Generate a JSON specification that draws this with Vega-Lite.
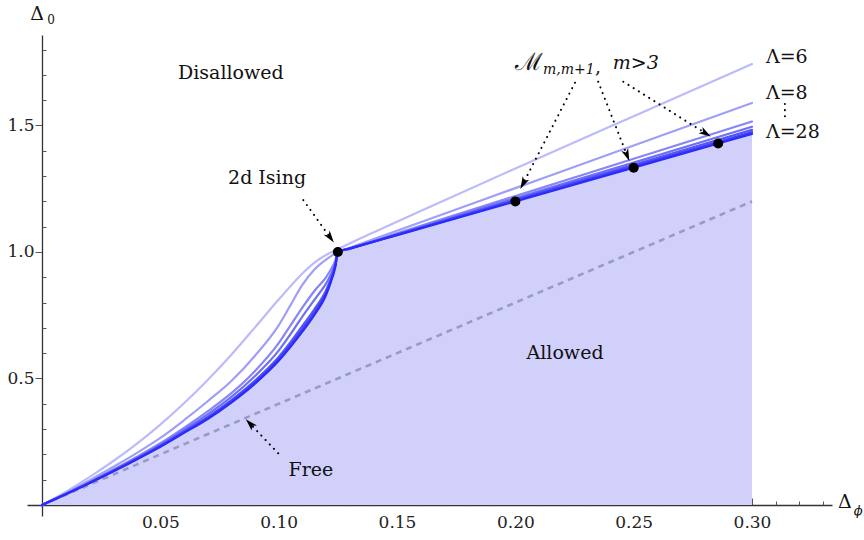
{
  "$schema": "https://vega.github.io/schema/vega-lite/v6.json",
  "autosize": "none",
  "width": 805,
  "height": 481,
  "padding": {"left": 27, "top": 35, "right": 32, "bottom": 24},
  "background": "white",
  "config": {
    "view": {"stroke": null},
    "axis": {"grid": false, "title": null, "domainColor": "#333333", "domainWidth": 1.3, "tickColor": "#555555", "tickWidth": 1, "labelFont": "DejaVu Serif", "labelFontSize": 17, "labelColor": "#222222", "labelOverlap": false, "labelFlush": false, "labelBound": false}
  },
  "resolve": {"axis": {"x": "independent", "y": "independent"}},
  "datasets": {
    "curves": [
      {"L": 6, "x": 0, "y": 0}, {"L": 6, "x": 0.01, "y": 0.052}, {"L": 6, "x": 0.02, "y": 0.11}, {"L": 6, "x": 0.03, "y": 0.173}, {"L": 6, "x": 0.04, "y": 0.242}, {"L": 6, "x": 0.05, "y": 0.318}, {"L": 6, "x": 0.06, "y": 0.402}, {"L": 6, "x": 0.07, "y": 0.494}, {"L": 6, "x": 0.08, "y": 0.594}, {"L": 6, "x": 0.09, "y": 0.702}, {"L": 6, "x": 0.1, "y": 0.812}, {"L": 6, "x": 0.105, "y": 0.865}, {"L": 6, "x": 0.11, "y": 0.915}, {"L": 6, "x": 0.115, "y": 0.957}, {"L": 6, "x": 0.12, "y": 0.988}, {"L": 6, "x": 0.125, "y": 1.011}, {"L": 6, "x": 0.13, "y": 1.034}, {"L": 6, "x": 0.14, "y": 1.077}, {"L": 6, "x": 0.16, "y": 1.162}, {"L": 6, "x": 0.2, "y": 1.33}, {"L": 6, "x": 0.25, "y": 1.537}, {"L": 6, "x": 0.3, "y": 1.743},
      {"L": 8, "x": 0, "y": 0}, {"L": 8, "x": 0.01, "y": 0.047}, {"L": 8, "x": 0.02, "y": 0.097}, {"L": 8, "x": 0.03, "y": 0.15}, {"L": 8, "x": 0.04, "y": 0.205}, {"L": 8, "x": 0.05, "y": 0.265}, {"L": 8, "x": 0.06, "y": 0.335}, {"L": 8, "x": 0.07, "y": 0.41}, {"L": 8, "x": 0.08, "y": 0.49}, {"L": 8, "x": 0.09, "y": 0.59}, {"L": 8, "x": 0.1, "y": 0.71}, {"L": 8, "x": 0.105, "y": 0.79}, {"L": 8, "x": 0.11, "y": 0.87}, {"L": 8, "x": 0.115, "y": 0.93}, {"L": 8, "x": 0.12, "y": 0.97}, {"L": 8, "x": 0.122, "y": 0.983}, {"L": 8, "x": 0.124, "y": 0.995}, {"L": 8, "x": 0.125, "y": 1.0}, {"L": 8, "x": 0.13, "y": 1.0168}, {"L": 8, "x": 0.15, "y": 1.0842}, {"L": 8, "x": 0.2, "y": 1.2525}, {"L": 8, "x": 0.25, "y": 1.4208}, {"L": 8, "x": 0.3, "y": 1.589},
      {"L": 12, "x": 0, "y": 0}, {"L": 12, "x": 0.01, "y": 0.044}, {"L": 12, "x": 0.02, "y": 0.09}, {"L": 12, "x": 0.03, "y": 0.139}, {"L": 12, "x": 0.04, "y": 0.19}, {"L": 12, "x": 0.05, "y": 0.244}, {"L": 12, "x": 0.06, "y": 0.305}, {"L": 12, "x": 0.07, "y": 0.37}, {"L": 12, "x": 0.08, "y": 0.442}, {"L": 12, "x": 0.09, "y": 0.53}, {"L": 12, "x": 0.1, "y": 0.64}, {"L": 12, "x": 0.105, "y": 0.71}, {"L": 12, "x": 0.11, "y": 0.78}, {"L": 12, "x": 0.115, "y": 0.845}, {"L": 12, "x": 0.12, "y": 0.9}, {"L": 12, "x": 0.122, "y": 0.93}, {"L": 12, "x": 0.124, "y": 0.968}, {"L": 12, "x": 0.125, "y": 1.0}, {"L": 12, "x": 0.13, "y": 1.0147}, {"L": 12, "x": 0.15, "y": 1.0737}, {"L": 12, "x": 0.2, "y": 1.221}, {"L": 12, "x": 0.25, "y": 1.3683}, {"L": 12, "x": 0.3, "y": 1.5156},
      {"L": 16, "x": 0, "y": 0}, {"L": 16, "x": 0.01, "y": 0.043}, {"L": 16, "x": 0.02, "y": 0.0885}, {"L": 16, "x": 0.03, "y": 0.136}, {"L": 16, "x": 0.04, "y": 0.1857}, {"L": 16, "x": 0.05, "y": 0.238}, {"L": 16, "x": 0.06, "y": 0.297}, {"L": 16, "x": 0.07, "y": 0.358}, {"L": 16, "x": 0.08, "y": 0.427}, {"L": 16, "x": 0.09, "y": 0.51}, {"L": 16, "x": 0.1, "y": 0.61}, {"L": 16, "x": 0.105, "y": 0.675}, {"L": 16, "x": 0.11, "y": 0.745}, {"L": 16, "x": 0.115, "y": 0.81}, {"L": 16, "x": 0.12, "y": 0.875}, {"L": 16, "x": 0.122, "y": 0.91}, {"L": 16, "x": 0.124, "y": 0.958}, {"L": 16, "x": 0.125, "y": 1.0}, {"L": 16, "x": 0.13, "y": 1.0141}, {"L": 16, "x": 0.15, "y": 1.0707}, {"L": 16, "x": 0.2, "y": 1.2121}, {"L": 16, "x": 0.25, "y": 1.3534}, {"L": 16, "x": 0.3, "y": 1.4948},
      {"L": 20, "x": 0, "y": 0}, {"L": 20, "x": 0.01, "y": 0.0427}, {"L": 20, "x": 0.02, "y": 0.0874}, {"L": 20, "x": 0.03, "y": 0.1343}, {"L": 20, "x": 0.04, "y": 0.1832}, {"L": 20, "x": 0.05, "y": 0.2345}, {"L": 20, "x": 0.06, "y": 0.2912}, {"L": 20, "x": 0.07, "y": 0.3484}, {"L": 20, "x": 0.08, "y": 0.4147}, {"L": 20, "x": 0.09, "y": 0.4917}, {"L": 20, "x": 0.1, "y": 0.585}, {"L": 20, "x": 0.105, "y": 0.6432}, {"L": 20, "x": 0.11, "y": 0.7077}, {"L": 20, "x": 0.115, "y": 0.7727}, {"L": 20, "x": 0.12, "y": 0.8479}, {"L": 20, "x": 0.122, "y": 0.8933}, {"L": 20, "x": 0.124, "y": 0.9515}, {"L": 20, "x": 0.125, "y": 1.0}, {"L": 20, "x": 0.13, "y": 1.0138}, {"L": 20, "x": 0.15, "y": 1.069}, {"L": 20, "x": 0.2, "y": 1.2068}, {"L": 20, "x": 0.25, "y": 1.3447}, {"L": 20, "x": 0.3, "y": 1.4826},
      {"L": 24, "x": 0, "y": 0}, {"L": 24, "x": 0.01, "y": 0.0423}, {"L": 24, "x": 0.02, "y": 0.0867}, {"L": 24, "x": 0.03, "y": 0.1331}, {"L": 24, "x": 0.04, "y": 0.1815}, {"L": 24, "x": 0.05, "y": 0.2321}, {"L": 24, "x": 0.06, "y": 0.2879}, {"L": 24, "x": 0.07, "y": 0.3439}, {"L": 24, "x": 0.08, "y": 0.4095}, {"L": 24, "x": 0.09, "y": 0.4854}, {"L": 24, "x": 0.1, "y": 0.5769}, {"L": 24, "x": 0.105, "y": 0.6334}, {"L": 24, "x": 0.11, "y": 0.6955}, {"L": 24, "x": 0.115, "y": 0.7605}, {"L": 24, "x": 0.12, "y": 0.8383}, {"L": 24, "x": 0.122, "y": 0.8861}, {"L": 24, "x": 0.124, "y": 0.948}, {"L": 24, "x": 0.125, "y": 1.0}, {"L": 24, "x": 0.13, "y": 1.0135}, {"L": 24, "x": 0.15, "y": 1.0677}, {"L": 24, "x": 0.2, "y": 1.2031}, {"L": 24, "x": 0.25, "y": 1.3385}, {"L": 24, "x": 0.3, "y": 1.474},
      {"L": 28, "x": 0, "y": 0}, {"L": 28, "x": 0.01, "y": 0.042}, {"L": 28, "x": 0.02, "y": 0.086}, {"L": 28, "x": 0.03, "y": 0.132}, {"L": 28, "x": 0.04, "y": 0.18}, {"L": 28, "x": 0.05, "y": 0.23}, {"L": 28, "x": 0.06, "y": 0.285}, {"L": 28, "x": 0.07, "y": 0.34}, {"L": 28, "x": 0.08, "y": 0.405}, {"L": 28, "x": 0.09, "y": 0.48}, {"L": 28, "x": 0.1, "y": 0.57}, {"L": 28, "x": 0.105, "y": 0.625}, {"L": 28, "x": 0.11, "y": 0.685}, {"L": 28, "x": 0.115, "y": 0.75}, {"L": 28, "x": 0.12, "y": 0.83}, {"L": 28, "x": 0.122, "y": 0.88}, {"L": 28, "x": 0.124, "y": 0.945}, {"L": 28, "x": 0.125, "y": 1.0}, {"L": 28, "x": 0.13, "y": 1.0133}, {"L": 28, "x": 0.15, "y": 1.0667}, {"L": 28, "x": 0.2, "y": 1.2}, {"L": 28, "x": 0.25, "y": 1.3333}, {"L": 28, "x": 0.3, "y": 1.4667}
    ],
    "free": [{"x": 0, "y": 0}, {"x": 0.3, "y": 1.2}],
    "pts": [{"x": 0.125, "y": 1.0}, {"x": 0.2, "y": 1.2}, {"x": 0.25, "y": 1.3333}, {"x": 0.2857, "y": 1.4286}],
    "arrows": [
      {"a": "ising", "x": 0.1104, "y": 1.2055, "x2": 0.1218, "y2": 1.0569},
      {"a": "free", "x": 0.0998, "y": 0.2043, "x2": 0.0879, "y2": 0.3217},
      {"a": "m1", "x": 0.2252, "y": 1.6692, "x2": 0.2033, "y2": 1.2708},
      {"a": "m2", "x": 0.235, "y": 1.6732, "x2": 0.2472, "y2": 1.3822},
      {"a": "m3", "x": 0.2456, "y": 1.6732, "x2": 0.2804, "y2": 1.4692},
      {"a": "lam", "x": 0.3139, "y": 1.585, "x2": 0.3139, "y2": 1.522}
    ]
  },
  "layer": [
    {
      "data": {"name": "curves"},
      "transform": [{"filter": "datum.L == 28"}],
      "mark": {"type": "area", "color": "#d0d0fb", "opacity": 1, "interpolate": "monotone"},
      "encoding": {
        "x": {"field": "x", "type": "quantitative", "scale": {"domain": [-0.00634, 0.3338], "nice": false, "zero": false},
          "axis": {"orient": "bottom", "offset": -11, "values": [0.05, 0.1, 0.15, 0.2, 0.25, 0.3], "format": ".2f", "tickSize": -7, "labelPadding": 16, "labelOverlap": false}},
        "y": {"field": "y", "type": "quantitative", "scale": {"domain": [-0.04348, 1.8577], "nice": false, "zero": false},
          "axis": {"orient": "left", "offset": -15, "values": [0.5, 1.0, 1.5], "format": ".1f", "tickSize": 7, "labelPadding": 1, "labelOverlap": false}},
        "y2": {"datum": 0}
      }
    },
    {
      "data": {"name": "free"},
      "mark": {"type": "line", "color": "#9a9ac6", "strokeWidth": 2.6, "strokeDash": [6, 5]},
      "encoding": {
        "x": {"field": "x", "type": "quantitative",
          "axis": {"orient": "bottom", "offset": -11, "domain": false, "labels": false, "values": [0.01,0.02,0.03,0.04,0.06,0.07,0.08,0.09,0.11,0.12,0.13,0.14,0.16,0.17,0.18,0.19,0.21,0.22,0.23,0.24,0.26,0.27,0.28,0.29,0.31,0.32,0.33], "tickSize": -4}},
        "y": {"field": "y", "type": "quantitative",
          "axis": {"orient": "left", "offset": -15, "domain": false, "labels": false, "values": [0.1,0.2,0.3,0.4,0.6,0.7,0.8,0.9,1.1,1.2,1.3,1.4,1.6,1.7,1.8], "tickSize": -4}}
      }
    },
    {
      "data": {"name": "curves"},
      "mark": {"type": "line", "strokeCap": "round", "interpolate": "monotone"},
      "encoding": {
        "x": {"field": "x", "type": "quantitative", "axis": null},
        "y": {"field": "y", "type": "quantitative", "axis": null},
        "color": {"field": "L", "type": "ordinal", "legend": null, "scale": {"domain": [6, 8, 12, 16, 20, 24, 28], "range": ["#bbbbfb", "#9f9ff8", "#8686f7", "#6e6ef8", "#5656f8", "#4242f9", "#2b2bfc"]}},
        "strokeWidth": {"field": "L", "type": "ordinal", "legend": null, "scale": {"domain": [6, 8, 12, 16, 20, 24, 28], "range": [2.2, 2.2, 2.2, 2.2, 2.2, 2.2, 3]}}
      }
    },
    {
      "data": {"name": "pts"},
      "mark": {"type": "point", "filled": true, "color": "black", "opacity": 1, "size": 100},
      "encoding": {"x": {"field": "x", "type": "quantitative", "axis": null}, "y": {"field": "y", "type": "quantitative", "axis": null}}
    },
    {
      "data": {"name": "arrows"},
      "mark": {"type": "rule", "color": "black", "strokeWidth": 2, "strokeDash": [0.1, 6], "strokeCap": "round"},
      "encoding": {"x": {"field": "x", "type": "quantitative", "axis": null}, "y": {"field": "y", "type": "quantitative", "axis": null}, "x2": {"field": "x2"}, "y2": {"field": "y2"}}
    },
    {
      "data": {"name": "arrows"},
      "transform": [{"filter": "datum.a == 'ising'"}],
      "mark": {"type": "point", "shape": "M0,-1L0.6,1L0,0.5L-0.6,1Z", "filled": true, "color": "black", "opacity": 1, "size": 150, "angle": 144},
      "encoding": {"x": {"field": "x2", "type": "quantitative", "axis": null}, "y": {"field": "y2", "type": "quantitative", "axis": null}}
    },
    {
      "data": {"name": "arrows"},
      "transform": [{"filter": "datum.a == 'free'"}],
      "mark": {"type": "point", "shape": "M0,-1L0.6,1L0,0.5L-0.6,1Z", "filled": true, "color": "black", "opacity": 1, "size": 150, "angle": 316},
      "encoding": {"x": {"field": "x2", "type": "quantitative", "axis": null}, "y": {"field": "y2", "type": "quantitative", "axis": null}}
    },
    {
      "data": {"name": "arrows"},
      "transform": [{"filter": "datum.a == 'm1'"}],
      "mark": {"type": "point", "shape": "M0,-1L0.6,1L0,0.5L-0.6,1Z", "filled": true, "color": "black", "opacity": 1, "size": 150, "angle": 207},
      "encoding": {"x": {"field": "x2", "type": "quantitative", "axis": null}, "y": {"field": "y2", "type": "quantitative", "axis": null}}
    },
    {
      "data": {"name": "arrows"},
      "transform": [{"filter": "datum.a == 'm2'"}],
      "mark": {"type": "point", "shape": "M0,-1L0.6,1L0,0.5L-0.6,1Z", "filled": true, "color": "black", "opacity": 1, "size": 150, "angle": 158},
      "encoding": {"x": {"field": "x2", "type": "quantitative", "axis": null}, "y": {"field": "y2", "type": "quantitative", "axis": null}}
    },
    {
      "data": {"name": "arrows"},
      "transform": [{"filter": "datum.a == 'm3'"}],
      "mark": {"type": "point", "shape": "M0,-1L0.6,1L0,0.5L-0.6,1Z", "filled": true, "color": "black", "opacity": 1, "size": 150, "angle": 122},
      "encoding": {"x": {"field": "x2", "type": "quantitative", "axis": null}, "y": {"field": "y2", "type": "quantitative", "axis": null}}
    },
    {
      "data": {"values": [
        {"x": 0.0798, "y": 1.7075, "t": "Disallowed"},
        {"x": 0.221, "y": 0.6008, "t": "Allowed"},
        {"x": 0.1136, "y": 0.1383, "t": "Free"},
        {"x": 0.0951, "y": 1.2925, "t": "2d Ising"}
      ]},
      "mark": {"type": "text", "font": "DejaVu Serif", "fontSize": 19, "color": "#111111", "align": "center", "baseline": "middle"},
      "encoding": {"x": {"field": "x", "type": "quantitative", "axis": null}, "y": {"field": "y", "type": "quantitative", "axis": null}, "text": {"field": "t"}}
    },
    {
      "data": {"values": [
        {"x": 0.3059, "y": 1.772, "t": "Λ=6"},
        {"x": 0.3059, "y": 1.627, "t": "Λ=8"},
        {"x": 0.3059, "y": 1.4755, "t": "Λ=28"}
      ]},
      "mark": {"type": "text", "font": "DejaVu Serif", "fontSize": 19, "color": "#111111", "align": "left", "baseline": "middle"},
      "encoding": {"x": {"field": "x", "type": "quantitative", "axis": null}, "y": {"field": "y", "type": "quantitative", "axis": null}, "text": {"field": "t"}}
    },
    {
      "data": {"values": [
        {"x": 0.2412, "y": 1.746, "t": "m>3"}
      ]},
      "mark": {"type": "text", "font": "DejaVu Serif", "fontSize": 19, "fontStyle": "italic", "color": "#111111", "align": "left", "baseline": "middle"},
      "encoding": {"x": {"field": "x", "type": "quantitative", "axis": null}, "y": {"field": "y", "type": "quantitative", "axis": null}, "text": {"field": "t"}}
    },
    {
      "data": {"values": [
        {"x": 0.2058, "y": 1.746, "t": "ℳ"}
      ]},
      "mark": {"type": "text", "font": "DejaVu Serif", "fontSize": 24, "color": "#111111", "align": "center", "baseline": "middle"},
      "encoding": {"x": {"field": "x", "type": "quantitative", "axis": null}, "y": {"field": "y", "type": "quantitative", "axis": null}, "text": {"field": "t"}}
    },
    {
      "data": {"values": [
        {"x": 0.2117, "y": 1.719, "t": "m,m+1"}
      ]},
      "mark": {"type": "text", "font": "DejaVu Serif", "fontSize": 14, "fontStyle": "italic", "color": "#111111", "align": "left", "baseline": "middle"},
      "encoding": {"x": {"field": "x", "type": "quantitative", "axis": null}, "y": {"field": "y", "type": "quantitative", "axis": null}, "text": {"field": "t"}}
    },
    {
      "data": {"values": [
        {"x": 0.2349, "y": 1.73, "t": ","},
        {"x": -0.0021, "y": 1.9407, "t": "Δ"},
        {"x": 0.3392, "y": 0.012, "t": "Δ"}
      ]},
      "mark": {"type": "text", "font": "DejaVu Serif", "fontSize": 19, "color": "#111111", "align": "center", "baseline": "middle"},
      "encoding": {"x": {"field": "x", "type": "quantitative", "axis": null}, "y": {"field": "y", "type": "quantitative", "axis": null}, "text": {"field": "t"}}
    },
    {
      "data": {"values": [
        {"x": 0.0022, "y": 1.917, "t": "0"}
      ]},
      "mark": {"type": "text", "font": "DejaVu Serif", "fontSize": 12, "color": "#111111", "align": "left", "baseline": "middle"},
      "encoding": {"x": {"field": "x", "type": "quantitative", "axis": null}, "y": {"field": "y", "type": "quantitative", "axis": null}, "text": {"field": "t"}}
    },
    {
      "data": {"values": [
        {"x": 0.343, "y": -0.024, "t": "ϕ"}
      ]},
      "mark": {"type": "text", "font": "DejaVu Serif", "fontSize": 13, "fontStyle": "italic", "color": "#111111", "align": "left", "baseline": "middle"},
      "encoding": {"x": {"field": "x", "type": "quantitative", "axis": null}, "y": {"field": "y", "type": "quantitative", "axis": null}, "text": {"field": "t"}}
    }
  ]
}
